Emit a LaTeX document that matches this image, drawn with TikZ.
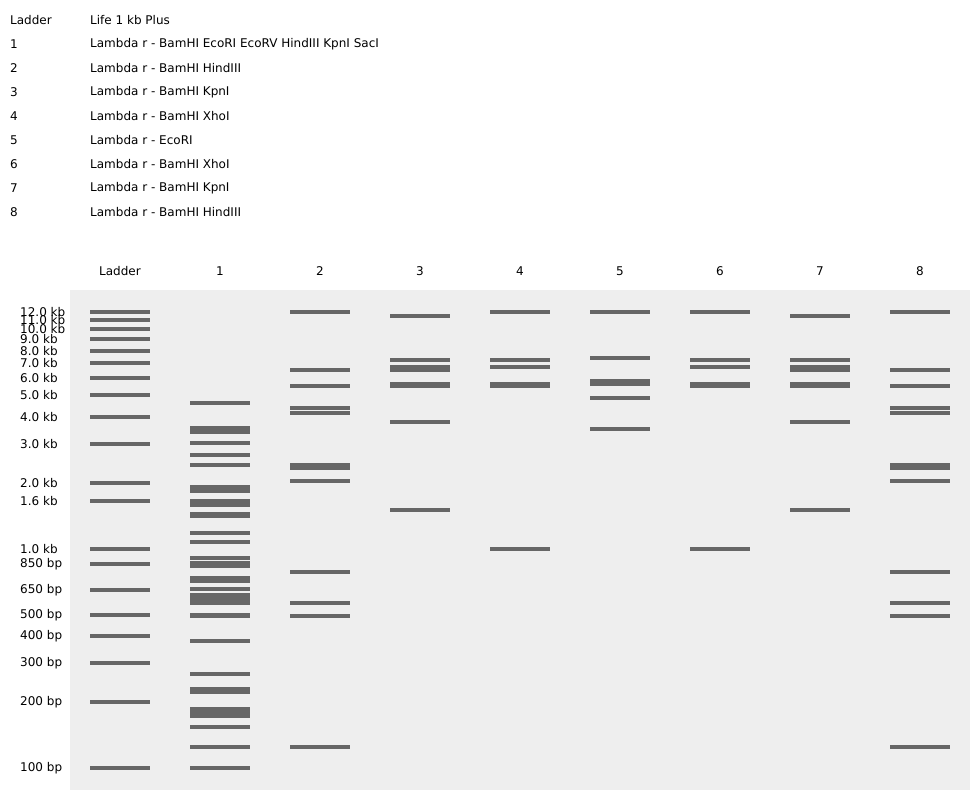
\documentclass[tikz,border=0pt]{standalone}
\usepackage{fontspec}
\setmainfont{DejaVu Sans}
\definecolor{gelbg}{HTML}{EEEEEE}
\definecolor{band}{HTML}{666666}
\begin{document}
\begin{tikzpicture}[x=1pt,y=-1pt,
  txt/.style={font=\fontsize{12}{13}\selectfont,inner sep=0pt,anchor=west},
  hdr/.style={font=\fontsize{12}{13}\selectfont,inner sep=0pt,anchor=center}]
\useasboundingbox (0,0) rectangle (970,790);
\fill[white] (0,0) rectangle (970,790);
\fill[gelbg] (70,290) rectangle (970,790);
% legend
\foreach \a/\b [count=\i from 0] in {Ladder/Life 1 kb Plus,1/Lambda r - BamHI EcoRI EcoRV HindIII KpnI SacI,2/Lambda r - BamHI HindIII,3/Lambda r - BamHI KpnI,4/Lambda r - BamHI XhoI,5/Lambda r - EcoRI,6/Lambda r - BamHI XhoI,7/Lambda r - BamHI KpnI,8/Lambda r - BamHI HindIII}{
  \node[txt] (la\i) at (10,20+24*\i) {\a};
  \node[txt] (lb\i) at (90,20+24*\i) {\b};
}
% headers
\foreach \h [count=\i from 0] in {Ladder,1,2,3,4,5,6,7,8}{
  \node[hdr] (h\i) at (120+100*\i,271) {\h};
}
% ladder labels
\foreach \y/\t in {312/12.0 kb,319.7/11.0 kb,328.7/10.0 kb,338.7/9.0 kb,351/8.0 kb,362.7/7.0 kb,378/6.0 kb,394.7/5.0 kb,416.7/4.0 kb,443.7/3.0 kb,482.7/2.0 kb,500.7/1.6 kb,548.7/1.0 kb,563.7/850 bp,589.7/650 bp,614.7/500 bp,635.7/400 bp,662.7/300 bp,701.7/200 bp,767.7/100 bp}{
  \node[txt] at (20,\y) {\t};
  \fill[band] (90,\y-2) rectangle (150,\y+2);
}
% lane 1
\foreach \y/\h in {402.7/4,430/8,443/4,454.7/4,464.7/4,489/7.7,503/7.7,515/6,533/4,542/4,558/4,564.5/6.3,579.3/6.7,588.7/4,598.8/11.7,615.3/5,640.7/4,673.7/4,690.3/6.7,712.3/10.7,726.7/4,746.7/4,767.7/4}{
  \fill[band] (190,\y-\h/2) rectangle (250,\y+\h/2);
}
% lanes 2 and 8
\foreach \x in {290,890}{
 \foreach \y/\h in {312/4,370/4,386/4,408/4,413/4,466.5/7,481/4,572/4,603/4,616/4,747/4}{
  \fill[band] (\x,\y-\h/2) rectangle (\x+60,\y+\h/2);
 }}
% lanes 3 and 7
\foreach \x in {390,790}{
 \foreach \y/\h in {316/4,360/4,368.5/7,385/6,422/4,510/4}{
  \fill[band] (\x,\y-\h/2) rectangle (\x+60,\y+\h/2);
 }}
% lanes 4 and 6
\foreach \x in {490,690}{
 \foreach \y/\h in {312/4,360/4,367/4,385/6,549/4}{
  \fill[band] (\x,\y-\h/2) rectangle (\x+60,\y+\h/2);
 }}
% lane 5
\foreach \y/\h in {312/4,358/4,382.5/7,398/4,429/4}{
  \fill[band] (590,\y-\h/2) rectangle (650,\y+\h/2);
}
\end{tikzpicture}
\end{document}
